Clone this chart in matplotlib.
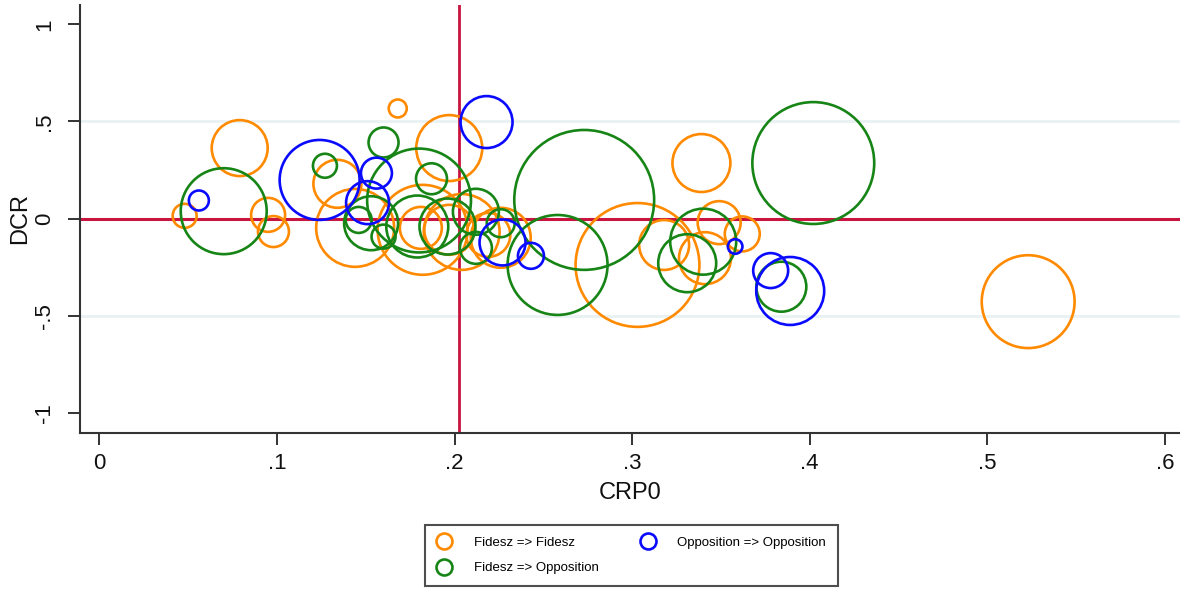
import matplotlib
matplotlib.use("Agg")
import matplotlib.pyplot as plt
from matplotlib.lines import Line2D

plt.rcParams['font.family'] = ['Liberation Sans', 'DejaVu Sans']

# ---- data -------------------------------------------------------------
# Fidesz => Fidesz
ff_crp0 = [0.048, 0.079, 0.095, 0.098, 0.134, 0.144, 0.168, 0.197, 0.181, 0.182,
           0.204, 0.219, 0.226, 0.303, 0.339, 0.318, 0.341, 0.349, 0.362, 0.523, 0.197]
ff_dcr = [0.014, 0.363, 0.019, -0.067, 0.179, -0.048, 0.567, 0.363, -0.048, -0.058,
          -0.069, -0.084, -0.099, -0.239, 0.286, -0.136, -0.204, -0.021, -0.079, -0.428, -0.058]
ff_w = [1.44, 7.84, 2.89, 2.40, 5.76, 15.2, 0.81, 10.9, 4.41, 20.25,
        14.4, 4.84, 9.0, 38.4, 8.41, 6.25, 6.76, 4.62, 3.06, 21.6, 6.25]

# Fidesz => Opposition
fo_crp0 = [0.070, 0.127, 0.160, 0.180, 0.187, 0.146, 0.153, 0.160, 0.179, 0.196,
           0.212, 0.226, 0.212, 0.273, 0.258, 0.331, 0.340, 0.402, 0.384]
fo_dcr = [0.038, 0.272, 0.392, 0.093, 0.205, -0.007, -0.024, -0.093, -0.041, -0.041,
          0.035, -0.024, -0.151, 0.096, -0.239, -0.230, -0.119, 0.286, -0.351]
fo_w = [18.5, 1.44, 2.25, 27.0, 2.40, 1.69, 7.29, 1.44, 9.61, 7.84,
        5.29, 1.96, 2.56, 49.0, 25.0, 8.41, 10.9, 37.2, 6.25]

# Opposition => Opposition
oo_crp0 = [0.056, 0.124, 0.218, 0.156, 0.151, 0.227, 0.243, 0.358, 0.378, 0.389]
oo_dcr = [0.093, 0.199, 0.497, 0.234, 0.082, -0.123, -0.192, -0.144, -0.268, -0.373]
oo_w = [1.0, 16.0, 6.76, 2.40, 4.62, 5.29, 1.69, 0.53, 3.06, 11.56]

series_labels = ["Fidesz => Fidesz", "Fidesz => Opposition", "Opposition => Opposition"]
x_ticks = [0, 0.1, 0.2, 0.3, 0.4, 0.5, 0.6]
x_tick_labels = ["0", ".1", ".2", ".3", ".4", ".5", ".6"]
y_ticks = [-1, -0.5, 0, 0.5, 1]
y_tick_labels = ["-1", "-.5", "0", ".5", "1"]
crp0_ref = 0.2025
dcr_ref = 0.0

# ---- style -------------------------------------------------------------
ORANGE = '#ff8a00'
GREEN = '#168516'
BLUE = '#0a0aff'
RED = '#c8143e'
GRID = '#e9f1f3'
AX = '#333333'
SCALE = 207.0

W, H = 1180, 590
fig = plt.figure(figsize=(W / 100, H / 100), dpi=100)
fig.patch.set_facecolor('white')

ax_l, ax_r = 79.7, 1180
ax_t, ax_b = 5, 432.7
ax = fig.add_axes([ax_l / W, 1 - ax_b / H, (ax_r - ax_l) / W, (ax_b - ax_t) / H])
ax.set_xlim(-0.0111, 0.6085)
ax.set_ylim(-1.103, 1.1)

for sp in ['top', 'right']:
    ax.spines[sp].set_visible(False)
for sp in ['left', 'bottom']:
    ax.spines[sp].set_color(AX)
    ax.spines[sp].set_linewidth(1.5)

for gy in [-0.5, 0.5]:
    ax.axhline(gy, color=GRID, lw=2.0, zorder=0)

ax.axhline(dcr_ref, color=RED, lw=2.2, zorder=1)
ax.axvline(crp0_ref, color=RED, lw=2.0, zorder=1)

for xs, ys, ws, col in [(ff_crp0, ff_dcr, ff_w, ORANGE),
                        (fo_crp0, fo_dcr, fo_w, GREEN),
                        (oo_crp0, oo_dcr, oo_w, BLUE)]:
    ax.scatter(xs, ys, s=[w * SCALE for w in ws], facecolors='none',
               edgecolors=col, linewidths=1.9, zorder=3)

ax.set_xticks(x_ticks)
ax.set_xticklabels(x_tick_labels)
ax.set_yticks(y_ticks)
ax.set_yticklabels(y_tick_labels, rotation=90, va='center')
ax.tick_params(axis='both', direction='out', length=8.5, width=1.4, color=AX,
               labelsize=16, labelcolor='#111111', pad=6)
ax.tick_params(axis='y', pad=9)

ax.set_xlabel("CRP0", fontsize=17, color='#111111', labelpad=6)
ax.set_ylabel("DCR", fontsize=17, color='#111111', labelpad=2)

handles = [Line2D([], [], ls='none', marker='o', markersize=11.5, markerfacecolor='none',
                  markeredgecolor=c, markeredgewidth=1.9)
           for c in [ORANGE, GREEN, BLUE]]
leg = fig.legend(handles, series_labels, ncol=2, loc='center',
                 bbox_to_anchor=(631.5 / W, 1 - 555.5 / H),
                 fontsize=9.5, frameon=True, fancybox=False, edgecolor='#222222',
                 handlelength=1.14, handletextpad=1.7, columnspacing=3.1,
                 labelspacing=1.0, borderpad=0.9)
leg.get_frame().set_linewidth(1.5)

fig.savefig("out.png", dpi=100, facecolor='white')
